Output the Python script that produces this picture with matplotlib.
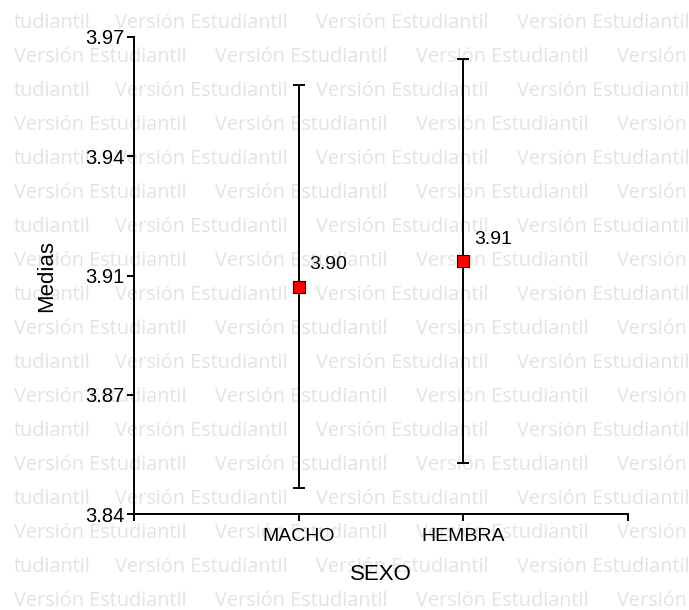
import matplotlib
matplotlib.use("Agg")
import matplotlib.pyplot as plt
import numpy as np

# Group means with their error half-widths
categories = ["MACHO", "HEMBRA"]
means = [3.902, 3.909]
errors = [0.055, 0.055]

# Y axis ticks and their printed labels
y_ticks = [3.84, 3.8725, 3.905, 3.9375, 3.97]
y_tick_labels = ["3.84", "3.87", "3.91", "3.94", "3.97"]

x_label = "SEXO"
y_label = "Medias"
watermark = "Versión Estudiantil"

W, H = 689, 610
fig = plt.figure(figsize=(W / 100, H / 100), dpi=100)
fig.patch.set_facecolor("white")

# Background watermark rows
wm_color = "#e3e3e3"
for row in range(18):
    base = H - (28.5 + 34 * row)
    if row % 2 == 0:
        fig.text(14 / W, base / H, "tudiantil", fontsize=14.3, family="Open Sans",
                 color=wm_color, va="baseline", ha="left", zorder=-5)
        starts = [115, 316, 517]
    else:
        starts = [14, 215, 416, 617]
    for sx in starts:
        fig.text(sx / W, base / H, watermark, fontsize=14.3, family="Open Sans",
                 color=wm_color, va="baseline", ha="left", zorder=-5)

left, right, bottom, top = 134, 628, 514, 37
ax = fig.add_axes([left / W, 1 - bottom / H, (right - left) / W, (bottom - top) / H])
ax.patch.set_alpha(0)

font = "Liberation Sans"
x = np.arange(1, len(categories) + 1)
ax.errorbar(x, means, yerr=errors, fmt="none", ecolor="black", elinewidth=1.4,
            capsize=4, capthick=1.4, zorder=3)
ax.plot(x, means, linestyle="none", marker="s", markersize=8,
        markerfacecolor="#ff0000", markeredgecolor="black", markeredgewidth=0.8, zorder=4)
for xi, m in zip(x, means):
    ax.annotate(f"{m:.2f}", (xi, m), xytext=(7.5, 15.5), textcoords="offset points",
                ha="left", va="center", fontsize=14, family=font, zorder=5)

ax.set_xlim(0, len(categories) + 1)
ax.set_ylim(y_ticks[0], y_ticks[-1])
ax.set_xticks(np.arange(0, len(categories) + 2))
ax.set_xticklabels([""] + categories + [""], family=font, fontsize=14)
ax.set_yticks(y_ticks)
ax.set_yticklabels(y_tick_labels, family=font, fontsize=14.5)

for s in ["top", "right"]:
    ax.spines[s].set_visible(False)
for s in ["left", "bottom"]:
    ax.spines[s].set_linewidth(1.4)
    ax.spines[s].set_color("black")
ax.tick_params(axis="both", direction="out", length=5, width=1.4, color="black")
ax.tick_params(axis="y", pad=2)
ax.tick_params(axis="x", pad=5)

ax.set_xlabel(x_label, family=font, fontsize=16)
ax.set_ylabel(y_label, family=font, fontsize=16)
ax.xaxis.label.set_va("center")
ax.yaxis.label.set_va("center")
ax.xaxis.set_label_coords(0.5, -(575 - bottom) / (bottom - top))
ax.yaxis.set_label_coords(-(left - 47) / (right - left), 0.5)

fig.savefig("out.png", dpi=100)
